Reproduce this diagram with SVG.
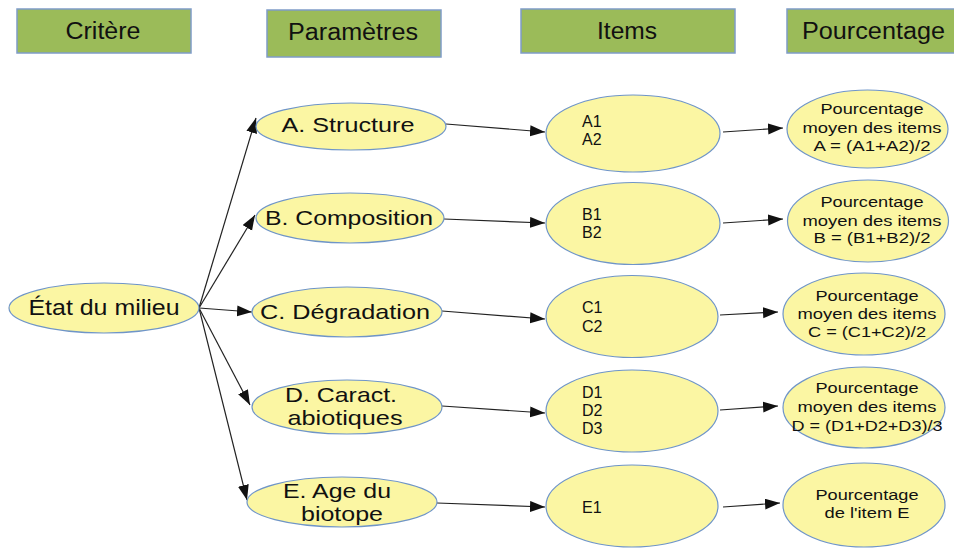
<svg xmlns="http://www.w3.org/2000/svg" width="954" height="548" viewBox="0 0 954 548">
<style>
.hdr{fill:#9bbb59;stroke:#7f9cc8;stroke-width:1.5}
.ell{fill:#fbf6a3;stroke:#6f95c8;stroke-width:1.2}
text{font-family:"Liberation Sans",Arial,sans-serif;fill:#111}
.h{font-size:23px;text-anchor:middle}
.p{font-size:21px;text-anchor:middle}
.i{font-size:16px}
.q{font-size:15.5px;text-anchor:middle}
.c line{stroke:#222;stroke-width:1.2;marker-end:url(#ah)}
</style>
<defs>
<marker id="ah" markerUnits="userSpaceOnUse" markerWidth="16" markerHeight="12" refX="15" refY="5.5" orient="auto">
<path d="M0,0 L15,5.5 L0,11 z" fill="#111"/>
</marker>
</defs>

<g id="h-critere"><rect class="hdr" x="17" y="9" width="174" height="44"/><text class="h" x="103" y="39" textLength="75" lengthAdjust="spacingAndGlyphs">Critère</text></g>
<g id="h-parametres"><rect class="hdr" x="267" y="10" width="174" height="47"/><text class="h" x="353" y="40" textLength="130" lengthAdjust="spacingAndGlyphs">Paramètres</text></g>
<g id="h-items"><rect class="hdr" x="521" y="9" width="214" height="44"/><text class="h" x="627" y="39" textLength="60" lengthAdjust="spacingAndGlyphs">Items</text></g>
<g id="h-pourcentage"><rect class="hdr" x="787" y="9" width="175" height="44"/><text class="h" x="802" y="39" style="text-anchor:start" textLength="143" lengthAdjust="spacingAndGlyphs">Pourcentage</text></g>

<g class="c" id="connectors">
<line x1="199" y1="308" x2="256" y2="118"/>
<line x1="199" y1="308" x2="255" y2="215"/>
<line x1="199" y1="308" x2="252" y2="312"/>
<line x1="199" y1="308" x2="250" y2="405"/>
<line x1="199" y1="308" x2="247" y2="500"/>
<line x1="446" y1="124" x2="545" y2="132"/>
<line x1="444" y1="219" x2="545" y2="223"/>
<line x1="442" y1="311" x2="545" y2="319"/>
<line x1="442" y1="406" x2="545" y2="413"/>
<line x1="437" y1="503" x2="545" y2="507"/>
<line x1="723" y1="132" x2="783" y2="128"/>
<line x1="723" y1="223" x2="783" y2="219"/>
<line x1="720" y1="315" x2="778" y2="312"/>
<line x1="720" y1="410" x2="778" y2="406"/>
<line x1="723" y1="507" x2="780" y2="503"/>
</g>

<g id="etat"><ellipse class="ell" cx="104" cy="308" rx="95" ry="25"/><text class="p" x="104" y="315" style="font-size:22px" textLength="151" lengthAdjust="spacingAndGlyphs">État du milieu</text></g>

<g id="pA"><ellipse class="ell" cx="351" cy="126.5" rx="95" ry="23.5"/><text class="p" x="348" y="132" textLength="133" lengthAdjust="spacingAndGlyphs">A. Structure</text></g>
<g id="pB"><ellipse class="ell" cx="350" cy="218" rx="94" ry="25"/><text class="p" x="349" y="225" textLength="168" lengthAdjust="spacingAndGlyphs">B. Composition</text></g>
<g id="pC"><ellipse class="ell" cx="347" cy="312" rx="95" ry="25"/><text class="p" x="345" y="319" textLength="170" lengthAdjust="spacingAndGlyphs">C. Dégradation</text></g>
<g id="pD"><ellipse class="ell" cx="347" cy="407" rx="95" ry="27"/><text class="p" x="341" y="402" textLength="112" lengthAdjust="spacingAndGlyphs">D. Caract.</text><text class="p" x="345" y="425" textLength="115" lengthAdjust="spacingAndGlyphs">abiotiques</text></g>
<g id="pE"><ellipse class="ell" cx="342" cy="502" rx="95" ry="25"/><text class="p" x="337" y="498" textLength="108" lengthAdjust="spacingAndGlyphs">E. Age du</text><text class="p" x="342" y="521" textLength="82" lengthAdjust="spacingAndGlyphs">biotope</text></g>

<g id="iA"><ellipse class="ell" cx="633" cy="133.5" rx="87" ry="38.5"/><text class="i" x="582" y="127">A1</text><text class="i" x="582" y="145">A2</text></g>
<g id="iB"><ellipse class="ell" cx="633" cy="223.5" rx="87" ry="41"/><text class="i" x="582" y="220">B1</text><text class="i" x="582" y="238">B2</text></g>
<g id="iC"><ellipse class="ell" cx="632" cy="316.5" rx="86" ry="41"/><text class="i" x="582" y="313">C1</text><text class="i" x="582" y="332">C2</text></g>
<g id="iD"><ellipse class="ell" cx="632" cy="411" rx="86" ry="41"/><text class="i" x="582" y="398">D1</text><text class="i" x="582" y="416">D2</text><text class="i" x="582" y="434">D3</text></g>
<g id="iE"><ellipse class="ell" cx="632" cy="506" rx="86" ry="41"/><text class="i" x="582" y="513">E1</text></g>

<g id="qA"><ellipse class="ell" cx="867.5" cy="129" rx="80.5" ry="39"/><text class="q" x="872" y="114" textLength="103" lengthAdjust="spacingAndGlyphs">Pourcentage</text><text class="q" x="872" y="133" textLength="139" lengthAdjust="spacingAndGlyphs">moyen des items</text><text class="q" x="872" y="151" textLength="117" lengthAdjust="spacingAndGlyphs">A = (A1+A2)/2</text></g>
<g id="qB"><ellipse class="ell" cx="868" cy="221" rx="80.5" ry="41"/><text class="q" x="872" y="207" textLength="103" lengthAdjust="spacingAndGlyphs">Pourcentage</text><text class="q" x="872" y="226" textLength="139" lengthAdjust="spacingAndGlyphs">moyen des items</text><text class="q" x="872" y="243" textLength="117" lengthAdjust="spacingAndGlyphs">B = (B1+B2)/2</text></g>
<g id="qC"><ellipse class="ell" cx="864" cy="314" rx="81" ry="41"/><text class="q" x="867" y="301" textLength="103" lengthAdjust="spacingAndGlyphs">Pourcentage</text><text class="q" x="867" y="319" textLength="139" lengthAdjust="spacingAndGlyphs">moyen des items</text><text class="q" x="867" y="337" textLength="118" lengthAdjust="spacingAndGlyphs">C = (C1+C2)/2</text></g>
<g id="qD"><ellipse class="ell" cx="864" cy="407.5" rx="81" ry="40.5"/><text class="q" x="867" y="393" textLength="103" lengthAdjust="spacingAndGlyphs">Pourcentage</text><text class="q" x="867" y="412" textLength="139" lengthAdjust="spacingAndGlyphs">moyen des items</text><text class="q" x="867" y="431" textLength="151" lengthAdjust="spacingAndGlyphs">D = (D1+D2+D3)/3</text></g>
<g id="qE"><ellipse class="ell" cx="864" cy="505" rx="81" ry="42"/><text class="q" x="867" y="500" textLength="103" lengthAdjust="spacingAndGlyphs">Pourcentage</text><text class="q" x="867" y="518" textLength="85" lengthAdjust="spacingAndGlyphs">de l'item E</text></g>
</svg>
